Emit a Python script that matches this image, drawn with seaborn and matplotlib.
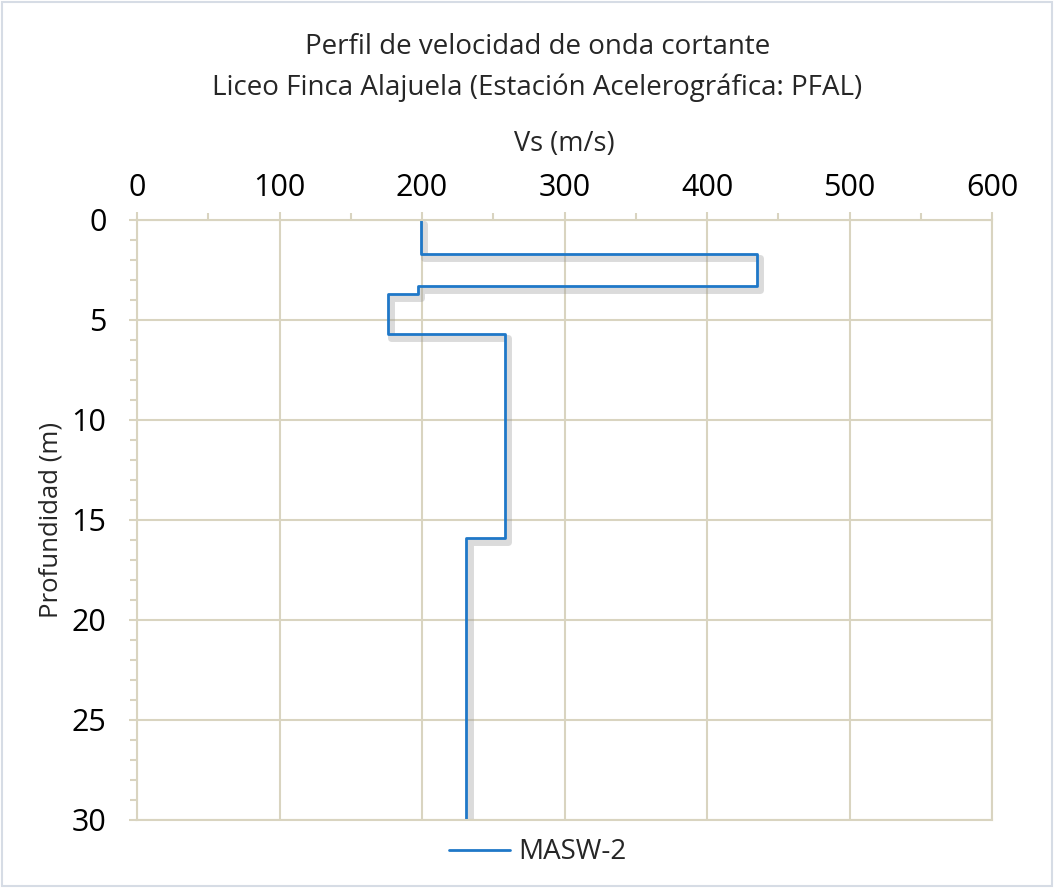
import numpy as np
import pandas as pd
import matplotlib
matplotlib.use("Agg")
import matplotlib.pyplot as plt
import matplotlib.patheffects as pe
from matplotlib.lines import Line2D
from matplotlib.ticker import MultipleLocator
import seaborn as sns

# layer data: top / bottom depth (m) and Vs (m/s)
layer_top = [0.0, 1.7, 3.3, 3.7, 5.7, 15.9]
layer_bottom = [1.7, 3.3, 3.7, 5.7, 15.9, 30.0]
vs_layer = [199, 435, 197, 176, 258, 231]
series_name = "MASW-2"

title_lines = ["Perfil de velocidad de onda cortante",
               "Liceo Finca Alajuela (Estación Acelerográfica: PFAL)"]
x_label = "Vs (m/s)"
y_label = "Profundidad (m)"

# step profile from the layers
depth = []
vs = []
for top, bot, v in zip(layer_top, layer_bottom, vs_layer):
    depth += [top, bot]
    vs += [v, v]
df = pd.DataFrame({"Vs": vs, "depth": depth, "serie": series_name})

sns.set_style("white")
plt.rcParams["font.family"] = ["Open Sans", "DejaVu Sans"]

grid_col = "#D9D4C0"
line_col = "#1F78C8"

fig = plt.figure(figsize=(10.54, 8.88), dpi=100)
ax = fig.add_axes([0.13, 0.0766, 0.8112, 0.6757])

sns.lineplot(data=df, x="Vs", y="depth", sort=False, estimator=None,
             color=line_col, linewidth=2, ax=ax, legend=False,
             path_effects=[pe.SimpleLineShadow(offset=(2.5, -3), shadow_color="#999999", alpha=0.35, linewidth=5),
                           pe.Normal()])

ax.set_xlim(0, 600)
ax.set_ylim(30, 0)
ax.xaxis.set_major_locator(MultipleLocator(100))
ax.xaxis.set_minor_locator(MultipleLocator(50))
ax.yaxis.set_major_locator(MultipleLocator(5))
ax.yaxis.set_minor_locator(MultipleLocator(1))
ax.xaxis.tick_top()
ax.xaxis.set_label_position("top")
ax.grid(True, which="major", color=grid_col, linewidth=1.5)
ax.tick_params(which="both", color=grid_col, width=1.5, labelsize=22, colors="black")
ax.tick_params(which="major", length=6)
ax.tick_params(which="minor", length=5)
ax.tick_params(axis="x", which="major", pad=6)
ax.tick_params(axis="y", which="major", pad=16)
ax.tick_params(axis="x", which="both", top=True, bottom=False)
ax.tick_params(axis="y", which="both", left=True)
for s in ax.spines.values():
    s.set_color(grid_col)
    s.set_linewidth(1.5)

ax.set_xlabel(x_label, fontsize=19.5, labelpad=16)
ax.set_ylabel(y_label, fontsize=18.5, labelpad=6)

fig.text(0.51, 0.947, title_lines[0], ha="center", va="center", fontsize=20)
fig.text(0.51, 0.901, title_lines[1], ha="center", va="center", fontsize=20)

handle = Line2D([], [], color=line_col, linewidth=2)
fig.legend([handle], [series_name], loc="center", bbox_to_anchor=(0.51, 0.04), frameon=False,
           fontsize=20, handlelength=2.2, handletextpad=0.3)

fig.patches.append(plt.Rectangle((0.002, 0.002), 0.996, 0.996, transform=fig.transFigure,
                                 fill=False, edgecolor="#D6DCE5", linewidth=1.5))

fig.savefig("out.png", dpi=100)
